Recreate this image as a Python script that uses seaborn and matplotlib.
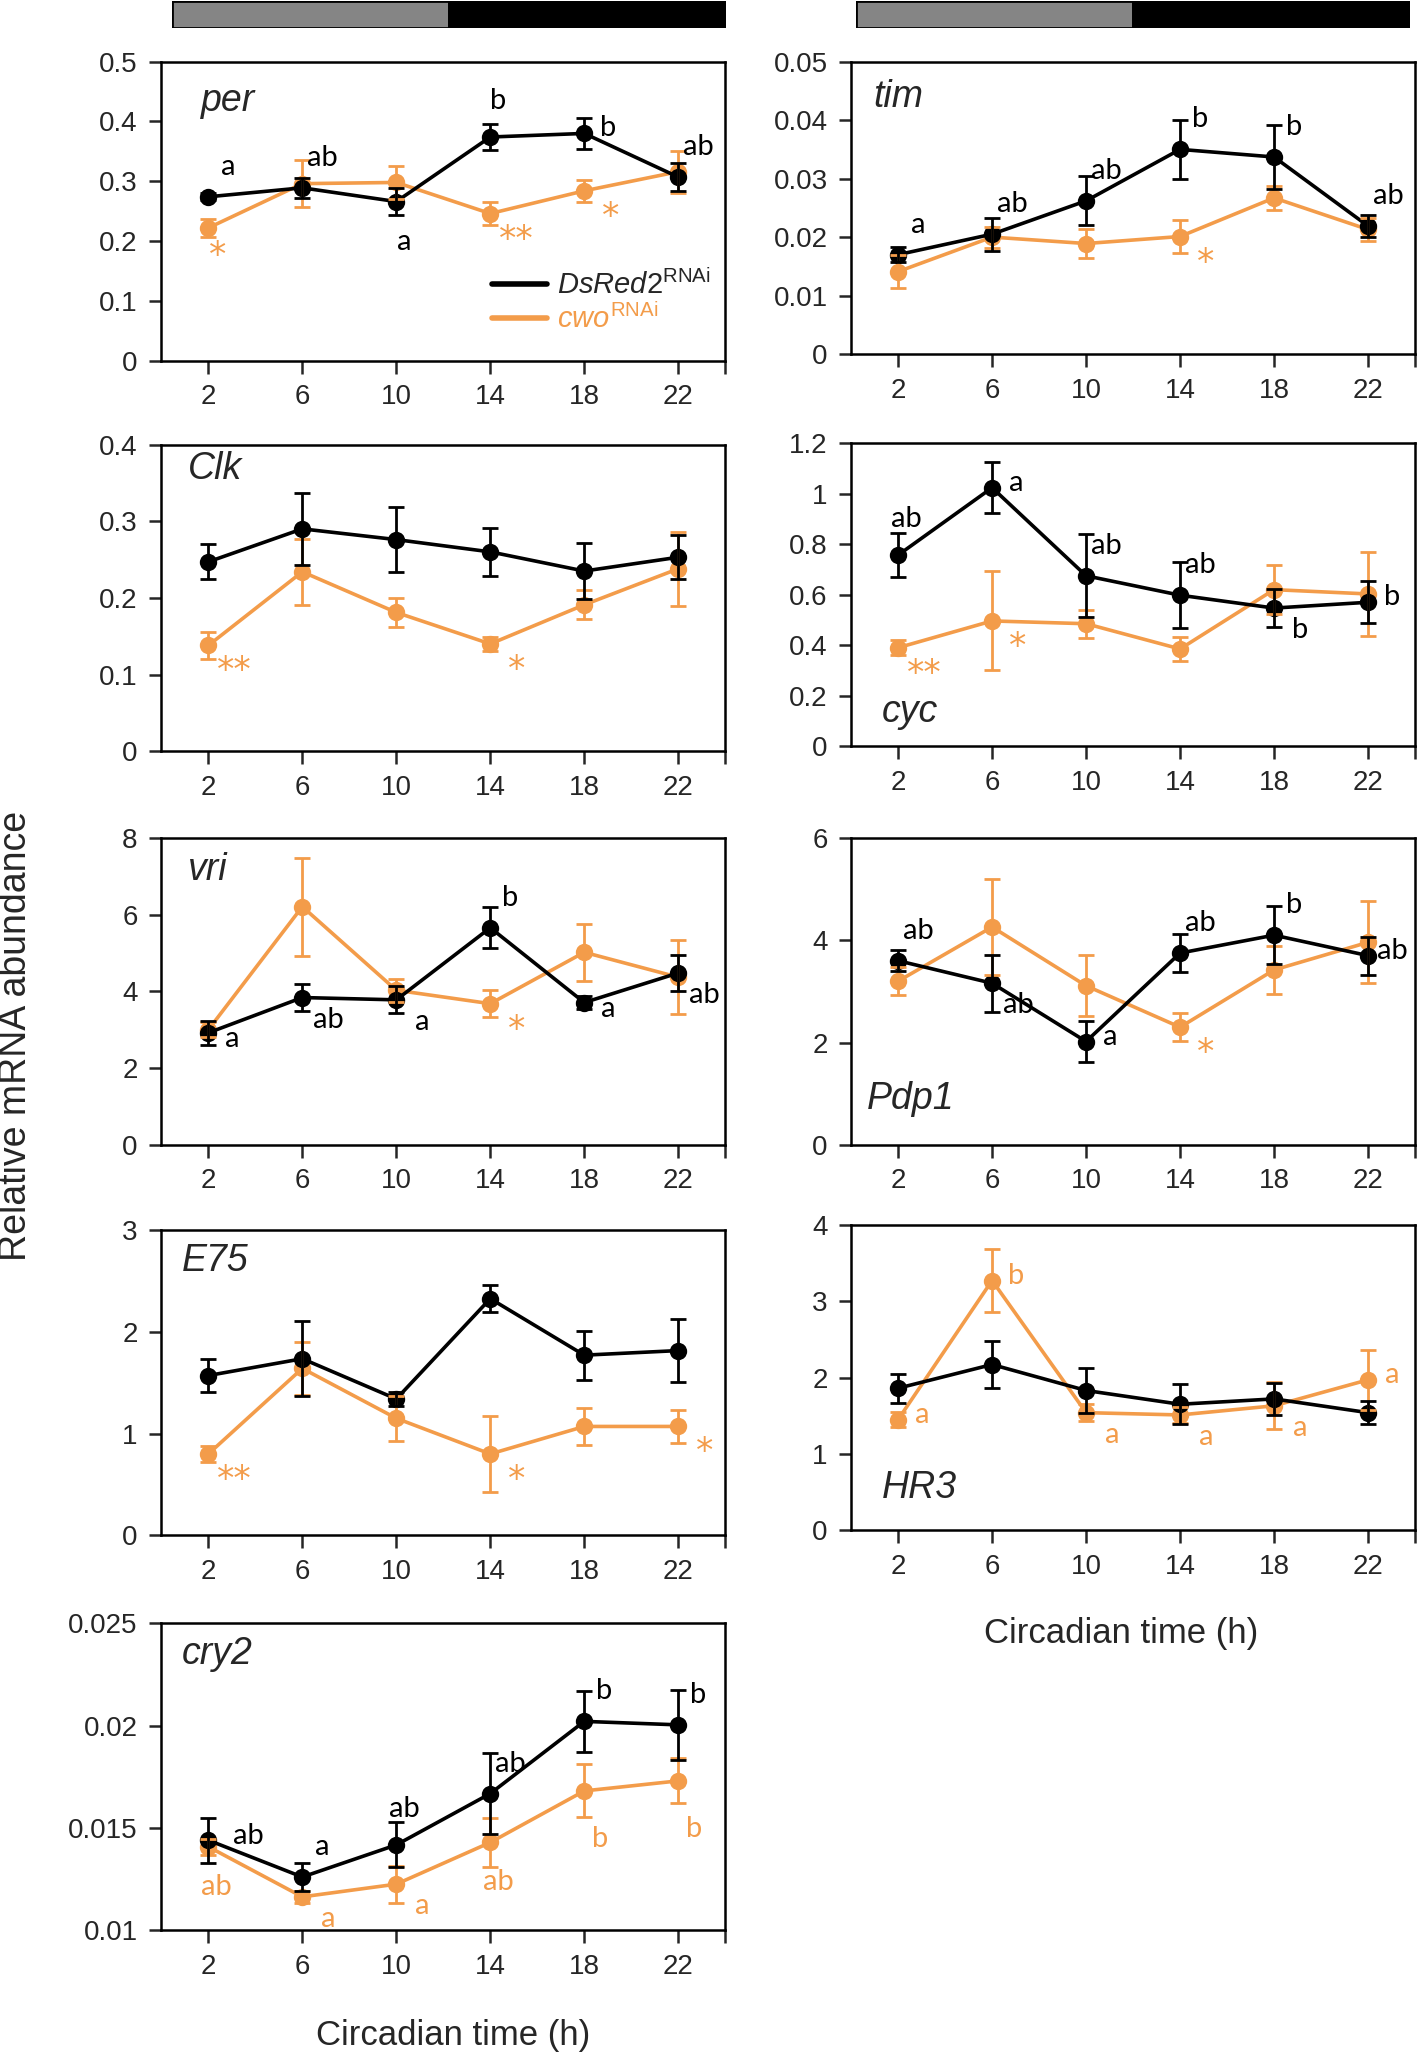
import pandas as pd
import seaborn as sns
import matplotlib.pyplot as plt
from matplotlib.lines import Line2D
from matplotlib.ticker import FuncFormatter

sns.set_style("white")
plt.rcParams['font.family'] = ['Liberation Sans', 'DejaVu Sans']
plt.rcParams['mathtext.fontset'] = 'custom'
plt.rcParams['mathtext.it'] = 'Liberation Sans:italic'
plt.rcParams['mathtext.rm'] = 'Liberation Sans'

ORANGE = '#F39C4A'
CT = [2, 6, 10, 14, 18, 22]

# mean +/- SEM, control (DsRed2 RNAi) and cwo RNAi
PER_DS = [0.274, 0.289, 0.266, 0.374, 0.380, 0.307]
PER_DS_SE = [0.006, 0.017, 0.022, 0.022, 0.026, 0.023]
PER_CWO = [0.222, 0.296, 0.298, 0.246, 0.284, 0.316]
PER_CWO_SE = [0.015, 0.039, 0.028, 0.019, 0.018, 0.035]

TIM_DS = [0.0170, 0.0205, 0.0262, 0.0350, 0.0337, 0.0219]
TIM_DS_SE = [0.0013, 0.0028, 0.0042, 0.0051, 0.0054, 0.0019]
TIM_CWO = [0.0141, 0.0200, 0.0189, 0.0201, 0.0267, 0.0213]
TIM_CWO_SE = [0.0028, 0.0018, 0.0024, 0.0028, 0.0021, 0.0020]

CLK_DS = [0.247, 0.290, 0.276, 0.260, 0.235, 0.253]
CLK_DS_SE = [0.023, 0.047, 0.042, 0.031, 0.037, 0.029]
CLK_CWO = [0.138, 0.234, 0.181, 0.140, 0.191, 0.238]
CLK_CWO_SE = [0.018, 0.043, 0.019, 0.009, 0.019, 0.048]

CYC_DS = [0.757, 1.024, 0.675, 0.598, 0.547, 0.570]
CYC_DS_SE = [0.088, 0.100, 0.164, 0.130, 0.075, 0.084]
CYC_CWO = [0.390, 0.496, 0.485, 0.385, 0.620, 0.603]
CYC_CWO_SE = [0.030, 0.196, 0.055, 0.047, 0.097, 0.168]

VRI_DS = [2.92, 3.84, 3.78, 5.66, 3.71, 4.48]
VRI_DS_SE = [0.32, 0.35, 0.35, 0.53, 0.18, 0.48]
VRI_CWO = [3.00, 6.21, 4.03, 3.68, 5.02, 4.37]
VRI_CWO_SE = [0.20, 1.28, 0.30, 0.36, 0.74, 0.97]

PDP1_DS = [3.60, 3.16, 2.02, 3.75, 4.10, 3.70]
PDP1_DS_SE = [0.21, 0.56, 0.40, 0.37, 0.57, 0.37]
PDP1_CWO = [3.20, 4.26, 3.11, 2.30, 3.42, 3.96]
PDP1_CWO_SE = [0.27, 0.94, 0.60, 0.27, 0.47, 0.80]

E75_DS = [1.57, 1.735, 1.34, 2.325, 1.77, 1.815]
E75_DS_SE = [0.16, 0.37, 0.07, 0.13, 0.24, 0.31]
E75_CWO = [0.80, 1.64, 1.15, 0.80, 1.07, 1.07]
E75_CWO_SE = [0.08, 0.26, 0.22, 0.37, 0.18, 0.16]

HR3_DS = [1.86, 2.17, 1.83, 1.65, 1.72, 1.54]
HR3_DS_SE = [0.19, 0.31, 0.30, 0.26, 0.21, 0.15]
HR3_CWO = [1.45, 3.27, 1.54, 1.51, 1.63, 1.97]
HR3_CWO_SE = [0.10, 0.41, 0.11, 0.10, 0.31, 0.39]

CRY2_DS = [0.0144, 0.0126, 0.01417, 0.01668, 0.02021, 0.02004]
CRY2_DS_SE = [0.0011, 0.0007, 0.0011, 0.0020, 0.0015, 0.0017]
CRY2_CWO = [0.01408, 0.01163, 0.01225, 0.01429, 0.01681, 0.0173]
CRY2_CWO_SE = [0.0004, 0.0003, 0.0009, 0.0012, 0.0013, 0.0011]

# significance letters / asterisks
PER_DS_LET = ["a", "ab", "a", "b", "b", "ab"]
PER_CWO_LET = ["*", "", "", "**", "*", ""]
TIM_DS_LET = ["a", "ab", "ab", "b", "b", "ab"]
TIM_CWO_LET = ["", "", "", "*", "", ""]
CLK_DS_LET = ["", "", "", "", "", ""]
CLK_CWO_LET = ["**", "", "", "*", "", ""]
CYC_DS_LET = ["ab", "a", "ab", "ab", "b", "b"]
CYC_CWO_LET = ["**", "*", "", "", "", ""]
VRI_DS_LET = ["a", "ab", "a", "b", "a", "ab"]
VRI_CWO_LET = ["", "", "", "*", "", ""]
PDP1_DS_LET = ["ab", "ab", "a", "ab", "b", "ab"]
PDP1_CWO_LET = ["", "", "", "*", "", ""]
E75_DS_LET = ["", "", "", "", "", ""]
E75_CWO_LET = ["**", "", "", "*", "", "*"]
HR3_DS_LET = ["", "", "", "", "", ""]
HR3_CWO_LET = ["a", "b", "a", "a", "a", "a"]
CRY2_DS_LET = ["ab", "a", "ab", "ab", "b", "b"]
CRY2_CWO_LET = ["ab", "a", "a", "ab", "b", "b"]

# label offsets in pixels (centre of the text relative to the point)
OFFS = {'ur': (20, 30), 'u': (8, 36), 'r': (24, 5), 'rr': (40, 4), 'dr': (26, -22),
        'd': (8, -40), 'ds': (9, -24), 'dd': (16, -48), 'rd': (24, -6), '': (0, 0)}

W = 0.3974
panels = [
    dict(gene='per', ds=PER_DS, dse=PER_DS_SE, cw=PER_CWO, cse=PER_CWO_SE,
         ylim=(0, 0.5), step=0.1, rect=[0.1137, 0.8246, W, 0.1454], lab=(0.07, 0.87),
         dl=PER_DS_LET, ds_pos=['ur', 'ur', 'd', 'u', 'r', 'ur'],
         cl=PER_CWO_LET, c_pos=['ds', '', '', 'dr', 'dr', ''], legend=True),
    dict(gene='tim', ds=TIM_DS, dse=TIM_DS_SE, cw=TIM_CWO, cse=TIM_CWO_SE,
         ylim=(0, 0.05), step=0.01, rect=[0.5998, 0.8278, W, 0.1422], lab=(0.04, 0.88),
         dl=TIM_DS_LET, ds_pos=['ur'] * 6,
         cl=TIM_CWO_LET, c_pos=['', '', '', 'dr', '', '']),
    dict(gene='Clk', ds=CLK_DS, dse=CLK_DS_SE, cw=CLK_CWO, cse=CLK_CWO_SE,
         ylim=(0, 0.4), step=0.1, rect=[0.1137, 0.6346, W, 0.1492], lab=(0.047, 0.92),
         dl=CLK_DS_LET, ds_pos=[''] * 6,
         cl=CLK_CWO_LET, c_pos=['dr', '', '', 'dr', '', '']),
    dict(gene='cyc', ds=CYC_DS, dse=CYC_DS_SE, cw=CYC_CWO, cse=CYC_CWO_SE,
         ylim=(0, 1.2), step=0.2, rect=[0.5998, 0.6371, W, 0.1473], lab=(0.054, 0.113),
         dl=CYC_DS_LET, ds_pos=['u', 'r', 'ur', 'ur', 'dr', 'r'],
         cl=CYC_CWO_LET, c_pos=['dr', 'dr', '', '', '', '']),
    dict(gene='vri', ds=VRI_DS, dse=VRI_DS_SE, cw=VRI_CWO, cse=VRI_CWO_SE,
         ylim=(0, 8), step=2, rect=[0.1137, 0.4432, W, 0.1492], lab=(0.047, 0.897),
         dl=VRI_DS_LET, ds_pos=['rd', 'dr', 'dr', 'ur', 'rd', 'dr'],
         cl=VRI_CWO_LET, c_pos=['', '', '', 'dr', '', '']),
    dict(gene='Pdp1', ds=PDP1_DS, dse=PDP1_DS_SE, cw=PDP1_CWO, cse=PDP1_CWO_SE,
         ylim=(0, 6), step=2, rect=[0.5998, 0.4432, W, 0.1492], lab=(0.028, 0.15),
         dl=PDP1_DS_LET, ds_pos=['ur', 'dr', 'r', 'ur', 'ur', 'r'],
         cl=PDP1_CWO_LET, c_pos=['', '', '', 'dr', '', '']),
    dict(gene='E75', ds=E75_DS, dse=E75_DS_SE, cw=E75_CWO, cse=E75_CWO_SE,
         ylim=(0, 3), step=1, rect=[0.1137, 0.2532, W, 0.1486], lab=(0.037, 0.897),
         dl=E75_DS_LET, ds_pos=[''] * 6,
         cl=E75_CWO_LET, c_pos=['dr', '', '', 'dr', '', 'dr']),
    dict(gene='HR3', ds=HR3_DS, dse=HR3_DS_SE, cw=HR3_CWO, cse=HR3_CWO_SE,
         ylim=(0, 4), step=1, rect=[0.5998, 0.2557, W, 0.1486], lab=(0.054, 0.137),
         dl=HR3_DS_LET, ds_pos=[''] * 6,
         cl=HR3_CWO_LET, c_pos=['r', 'r', 'dr', 'dr', 'dr', 'r']),
    dict(gene='cry2', ds=CRY2_DS, dse=CRY2_DS_SE, cw=CRY2_CWO, cse=CRY2_CWO_SE,
         ylim=(0.01, 0.025), step=0.005, rect=[0.1137, 0.0612, W, 0.1492], lab=(0.037, 0.90),
         dl=CRY2_DS_LET, ds_pos=['rr', 'ur', 'u', 'ur', 'ur', 'ur'],
         cl=CRY2_CWO_LET, c_pos=['d', 'dr', 'dr', 'd', 'dd', 'dd']),
]

LET_FONT = ['Lato', 'Open Sans', 'DejaVu Sans']


def put_labels(ax, ys, labels, spots, color):
    for x, y, lab, sp in zip(CT, ys, labels, spots):
        if not lab:
            continue
        dx, dy = OFFS[sp]
        if '*' in lab:
            # asterisk glyph sits high in its box: anchor on baseline instead
            ax.annotate(lab, (x, y), xytext=(dx, dy - 14), textcoords='offset pixels',
                        ha='center', va='baseline', color=color, fontsize=25,
                        family=['DejaVu Sans'], zorder=6)
        else:
            ax.annotate(lab, (x, y), xytext=(dx, dy), textcoords='offset pixels',
                        ha='center', va='center', color=color, fontsize=21,
                        family=LET_FONT, zorder=6)


fig = plt.figure(figsize=(14.19, 20.56), dpi=100)

for p in panels:
    ax = fig.add_axes(p['rect'])
    df = pd.DataFrame({
        'CT': CT + CT,
        'value': p['cw'] + p['ds'],
        'line': ['cwo'] * 6 + ['DsRed2'] * 6,
    })
    sns.lineplot(data=df, x='CT', y='value', hue='line', hue_order=['cwo', 'DsRed2'],
                 palette={'cwo': ORANGE, 'DsRed2': 'black'}, marker='o', markersize=12.5,
                 markeredgewidth=0, linewidth=2.6, legend=False, ax=ax)
    ax.errorbar(CT, p['cw'], yerr=p['cse'], fmt='none', ecolor=ORANGE,
                elinewidth=2, capsize=6, capthick=2, zorder=3)
    ax.errorbar(CT, p['ds'], yerr=p['dse'], fmt='none', ecolor='black',
                elinewidth=2, capsize=6, capthick=2, zorder=4)

    lo, hi = p['ylim']
    ax.set_xlim(0, 24)
    ax.set_ylim(lo, hi)
    ax.set_xticks(CT)
    ax.set_xticks([24], minor=True)
    n = int(round((hi - lo) / p['step']))
    ax.set_yticks([lo + i * p['step'] for i in range(n + 1)])
    ax.yaxis.set_major_formatter(FuncFormatter(lambda v, pos: f"{round(v, 4):g}"))
    ax.set_xlabel('')
    ax.set_ylabel('')
    for s in ax.spines.values():
        s.set_color('black')
        s.set_linewidth(1.8)
    ax.tick_params(which='both', direction='out', length=9, width=1.8,
                   labelsize=20, pad=8, bottom=True, left=True)
    ax.text(p['lab'][0], p['lab'][1], p['gene'], transform=ax.transAxes,
            fontsize=27, style='italic', ha='left', va='center')

    put_labels(ax, p['ds'], p['dl'], p['ds_pos'], 'black')
    put_labels(ax, p['cw'], p['cl'], p['c_pos'], ORANGE)

    if p.get('legend'):
        handles = [Line2D([], [], color='black', lw=4),
                   Line2D([], [], color=ORANGE, lw=4)]
        labels = [r'$\mathit{DsRed2}^{\mathrm{RNAi}}$', r'$\mathit{cwo}^{\mathrm{RNAi}}$']
        leg = ax.legend(handles, labels, loc='lower left', bbox_to_anchor=(0.565, 0.05),
                        frameon=False, fontsize=21, handlelength=1.9, handletextpad=0.35,
                        labelspacing=0.1, borderaxespad=0)
        leg.get_texts()[1].set_color(ORANGE)

# light / dark bars
for x0 in (0.1211, 0.6035):
    bar = fig.add_axes([x0, 0.9866, 0.3905, 0.0128])
    bar.barh(0, 12, left=0, height=1, color='#858585', edgecolor='black', linewidth=2)
    bar.barh(0, 12, left=12, height=1, color='black', edgecolor='black', linewidth=2)
    bar.set_xlim(0, 24)
    bar.set_ylim(-0.5, 0.5)
    bar.axis('off')

fig.text(0.011, 0.496, 'Relative mRNA abundance', rotation=90, ha='center', va='center',
         fontsize=27)
fig.text(0.319, 0.0102, 'Circadian time (h)', ha='center', va='center', fontsize=25)
fig.text(0.790, 0.2054, 'Circadian time (h)', ha='center', va='center', fontsize=25)

fig.savefig('out.png', dpi=100)
